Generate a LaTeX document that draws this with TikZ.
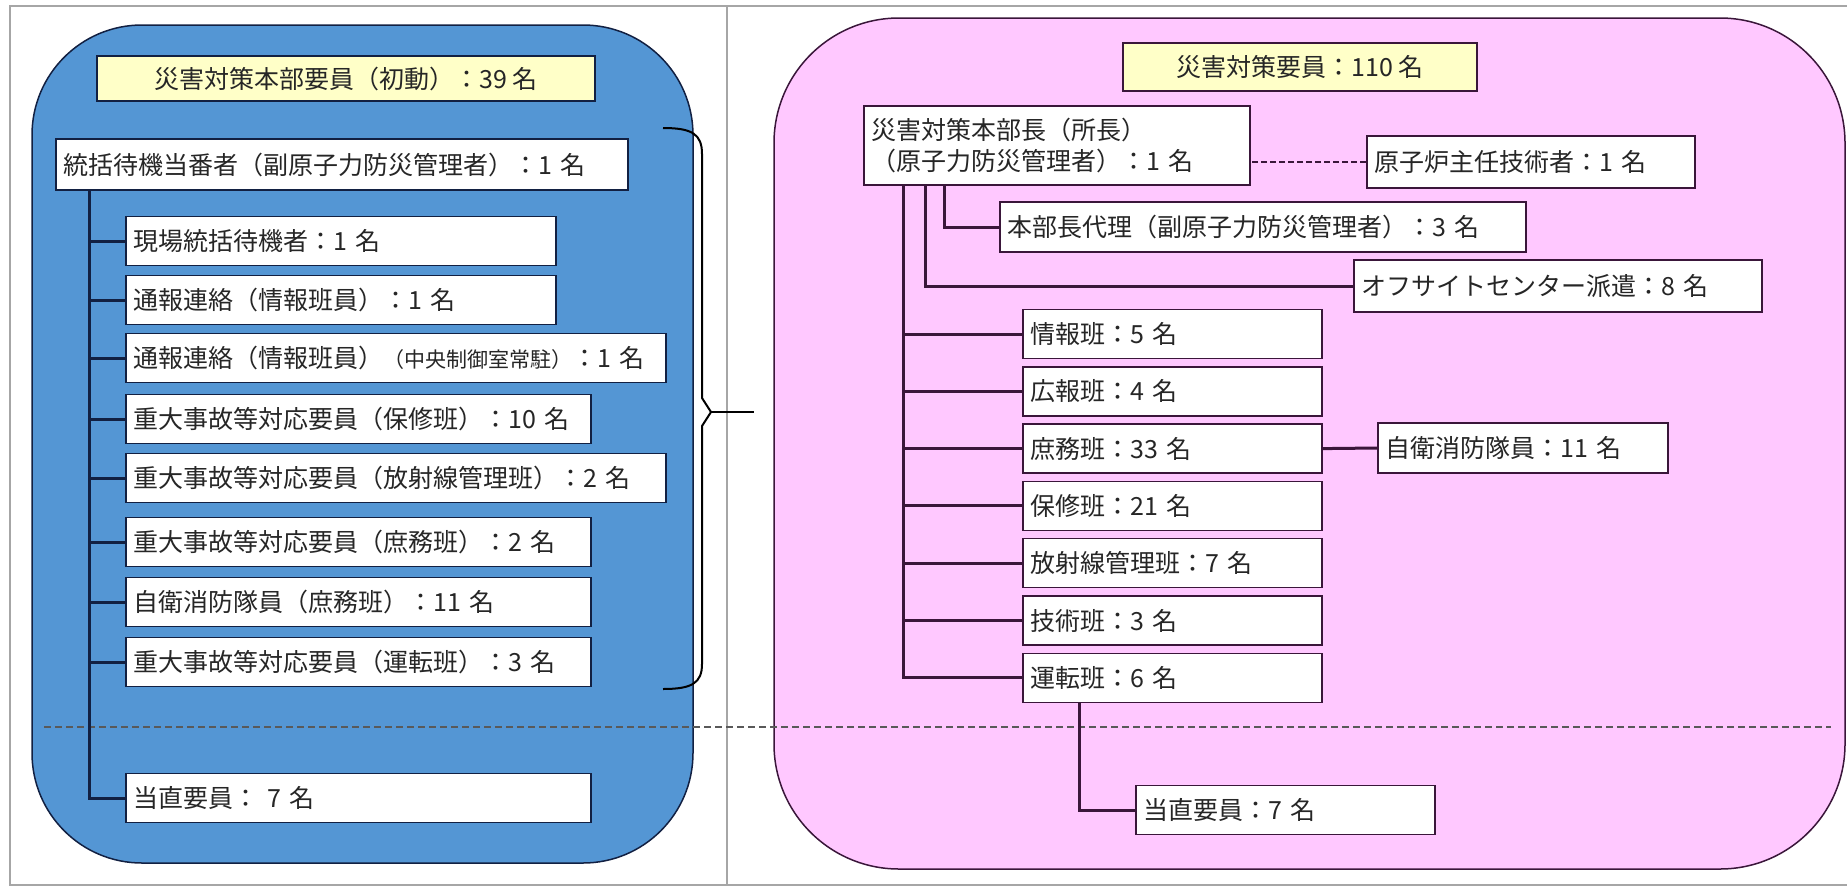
\documentclass[tikz,border=0pt]{standalone}
\usepackage{fontspec}
\newfontfamily\jpfont{Noto Sans CJK JP}
\usepackage{tikz}
\usetikzlibrary{positioning,calc}
\definecolor{bluefill}{RGB}{84,150,212}
\definecolor{pinkfill}{RGB}{255,200,255}
\definecolor{titlefill}{RGB}{255,255,200}
\definecolor{navyline}{RGB}{18,32,66}
\definecolor{plumline}{RGB}{58,22,58}

\begin{document}
\begin{tikzpicture}[x=1pt, y=-1pt,
  member/.style={draw=#1, fill=white, line width=1.5pt, anchor=west, align=left,
    minimum height=49pt, inner xsep=8pt, inner ysep=0pt,
    font=\jpfont\fontsize{25}{31}\selectfont, text=black!85},
  title/.style={member=#1, fill=titlefill, anchor=center, align=center},
  link/.style={draw=#1, line width=3pt}]
\useasboundingbox (0,0) rectangle (1847,887);
\draw[black!35, line width=1.5pt] (10,6) rectangle (1860,885);
\draw[black!35, line width=1.5pt] (727,6) -- (727,885);
\draw[navyline, line width=1.5pt, fill=bluefill, rounded corners=110pt] (32,25) rectangle (693,863);
\draw[plumline, line width=1.5pt, fill=pinkfill, rounded corners=125pt] (774,18) rectangle (1845,869);
\draw[black!65, line width=2pt, dash pattern=on 7pt off 4pt] (44,727) -- (1831,727);

% left side
\node[title=navyline, minimum width=498pt, minimum height=45pt] (ltitle) at (346,78.5) {災害対策本部要員（初動）：39 名};
\node[member=navyline, text width=556pt, minimum height=51pt] (lhead) at (55,164.5) {統括待機当番者（副原子力防災管理者）：1 名};
\coordinate (ltrunk) at ([xshift=34pt]lhead.south west);
\foreach \nm/\bw/\cy/\txt in {c1/414/241/{現場統括待機者：1 名},
    c2/414/300/{通報連絡（情報班員）：1 名},
    c3/524/358/{通報連絡（情報班員）{\fontsize{21}{25}\selectfont（中央制御室常駐）}：1 名},
    c4/449/419/{重大事故等対応要員（保修班）：10 名},
    c5/524/478/{重大事故等対応要員（放射線管理班）：2 名},
    c6/449/542/{重大事故等対応要員（庶務班）：2 名},
    c7/449/602/{自衛消防隊員（庶務班）：11 名},
    c8/449/662/{重大事故等対応要員（運転班）：3 名},
    c9/449/798/{当直要員： 7 名}}{
  \node[member=navyline, text width=\bw pt] (\nm) at (125,\cy) {\txt};
  \draw[link=navyline] (\nm.west) -- (\nm.west -| ltrunk);
}
\draw[link=navyline] (ltrunk) |- (c9.west);
\coordinate (btop) at (663,128);
\coordinate (btip) at (754,412);
\coordinate (bbot) at (663,689);
\draw[black, line width=2pt] (btop) .. controls (692,128) and (702,134) .. (702,154) -- (702,398)
  -- (711,412) -- (702,426) -- (702,664) .. controls (702,683) and (692,689) .. (bbot);
\draw[black, line width=2pt] (711,412) -- (btip);

% right side
\node[title=plumline, minimum width=354pt, minimum height=48pt] (rtitle) at (1300,67) {災害対策要員：110 名};
\node[member=plumline, text width=370pt, minimum height=79pt] (rhead) at (863,145.5)
  {災害対策本部長（所長）\\（原子力防災管理者）：1 名};
\node[member=plumline, text width=312pt, minimum height=52pt] (ninsha) at (1366,162) {原子炉主任技術者：1 名};
\draw[link=plumline, line width=2pt, dash pattern=on 6pt off 3pt] (ninsha.west) -- (ninsha.west -| rhead.east);
\node[member=plumline, text width=510pt, minimum height=50pt] (dairi) at (999,227) {本部長代理（副原子力防災管理者）：3 名};
\draw[link=plumline] (dairi.west) -| ([xshift=81pt]rhead.south west);
\node[member=plumline, text width=392pt, minimum height=52pt] (offsite) at (1353,286) {オフサイトセンター派遣：8 名};
\draw[link=plumline] (offsite.west) -| ([xshift=62pt]rhead.south west);
\coordinate (rtrunk) at ([xshift=40pt]rhead.south west);
\foreach \nm/\txt [count=\i] in {joho/情報班：5 名, koho/広報班：4 名, shomu/庶務班：33 名,
    hoshu/保修班：21 名, hoshasen/放射線管理班：7 名, gijutsu/技術班：3 名, unten/運転班：6 名}{
  \node[member=plumline, text width=283pt] (\nm) at (1022,{334+57.3*(\i-1)}) {\txt};
  \draw[link=plumline] (\nm.west) -- (\nm.west -| rtrunk);
}
\draw[link=plumline] (rtrunk) |- (unten.west);
\node[member=plumline, text width=274pt, minimum height=50pt] (jiei) at (1377,448) {自衛消防隊員：11 名};
\draw[link=plumline] (shomu.east) -- (jiei.west);
\node[member=plumline, text width=283pt] (rtochoku) at (1135,810) {当直要員：7 名};
\draw[link=plumline] ([xshift=57pt]unten.south west) |- (rtochoku.west);
\end{tikzpicture}
\end{document}
